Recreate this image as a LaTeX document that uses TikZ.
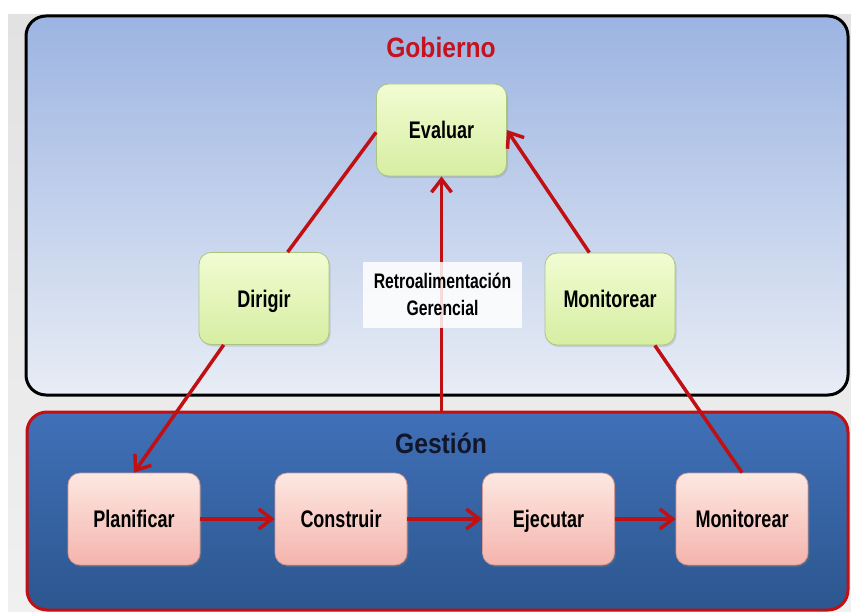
\documentclass[tikz,border=0pt]{standalone}
\usepackage{fontspec}
\setmainfont{Liberation Sans}
\newfontfamily\narrowfont{Liberation Sans}[FakeStretch=0.75]
\newfontfamily\titlefont{Liberation Sans}[FakeStretch=0.88]
\usetikzlibrary{arrows.meta,shadows}

\definecolor{arrred}{RGB}{192,16,20}
\definecolor{gobred}{RGB}{196,18,30}
\definecolor{gestink}{RGB}{18,22,42}
\definecolor{gobtop}{RGB}{156,180,226}
\definecolor{gobbot}{RGB}{232,237,245}
\definecolor{gestop}{RGB}{64,112,184}
\definecolor{gesbot}{RGB}{44,86,142}
\definecolor{greentop}{RGB}{242,252,210}
\definecolor{greenbot}{RGB}{214,238,162}
\definecolor{greenedge}{RGB}{170,196,130}
\definecolor{pinktop}{RGB}{253,232,226}
\definecolor{pinkbot}{RGB}{244,180,172}
\definecolor{pinkedge}{RGB}{214,150,145}
\definecolor{bgtop}{RGB}{226,226,226}
\definecolor{bgbot}{RGB}{240,240,240}

\tikzset{
  panelgob/.style={rectangle, rounded corners=20pt, draw=black, line width=3pt,
    top color=gobtop, bottom color=gobbot, inner sep=0pt},
  panelges/.style={rectangle, rounded corners=20pt, draw=arrred, line width=3pt,
    top color=gestop, bottom color=gesbot, inner sep=0pt},
  titletext/.style={font=\titlefont\bfseries\fontsize{28}{32}\selectfont, anchor=base},
  greenbox/.style={rectangle, rounded corners=12pt, draw=greenedge, line width=0.8pt,
    top color=greentop, bottom color=greenbot,
    minimum width=130pt, minimum height=92pt,
    font=\narrowfont\bfseries\fontsize{24}{28}\selectfont, text=black,
    text height=17pt, text depth=0pt,
    drop shadow={shadow xshift=1.5pt, shadow yshift=-2pt, opacity=0.25}},
  pinkbox/.style={rectangle, rounded corners=12pt, draw=pinkedge, line width=0.8pt,
    top color=pinktop, bottom color=pinkbot,
    minimum width=132pt, minimum height=92pt,
    font=\narrowfont\bfseries\fontsize{24}{28}\selectfont, text=black,
    text height=17pt, text depth=0pt,
    drop shadow={shadow xshift=1.5pt, shadow yshift=-2pt, opacity=0.3}},
  notebox/.style={rectangle, fill=white, fill opacity=0.85, draw=none,
    minimum width=159pt, minimum height=66pt},
  notetext/.style={font=\narrowfont\bfseries\fontsize{21}{27}\selectfont,
    align=center, text=black, inner sep=0pt},
  redarrow/.style={draw=arrred, line width=3.5pt,
    -{Straight Barb[length=13pt,width=20pt]}},
  redline/.style={draw=arrred, line width=3.5pt}
}

\begin{document}
\begin{tikzpicture}[x=1pt,y=-1pt]
\useasboundingbox (0,0) rectangle (851,612);
\fill[white] (0,0) rectangle (851,612);
\shade[top color=bgtop, bottom color=bgbot] (8,15) rectangle (851,612);

% the two layers
\node[panelgob, minimum width=822pt, minimum height=379pt] (gobierno) at (437,205.5) {};
\node[panelges, minimum width=821pt, minimum height=198pt] (gestion) at (437.5,511) {};

\node[titletext, text=gobred] (tgob) at (441,58) {Gobierno};
\node[titletext, text=gestink] (tges) at (441,453) {Gestión};

% governance activities
\node[greenbox] (evaluar) at (441.5,130) {Evaluar};
\node[greenbox] (dirigir) at (264,298.5) {Dirigir};
\node[greenbox] (monsup) at (610,299) {Monitorear};

% management activities
\node[pinkbox] (planificar) at (134,519) {Planificar};
\node[pinkbox] (construir) at (341,519) {Construir};
\node[pinkbox] (ejecutar) at (548.5,519) {Ejecutar};
\node[pinkbox] (moninf) at (742,519) {Monitorear};

% feedback channel from management up to evaluation
\draw[redarrow] (evaluar.south |- gestion.north) -- (evaluar.south);
\node[notebox] (retro) at (442.5,295) {};
\node[notetext] (retrotxt) at (442.5,294) {Retroalimentación\\Gerencial};

% governance cycle
\draw[redline] (dirigir.63) -- (evaluar.182);
\draw[redarrow] (monsup.114) -- (evaluar.east);
\draw[redarrow] (dirigir.229) -- (planificar.north);
\draw[redline] (monsup.314) -- (moninf.north);

% management flow
\draw[redarrow] (planificar.east) -- (construir.west);
\draw[redarrow] (construir.east) -- (ejecutar.west);
\draw[redarrow] (ejecutar.east) -- (moninf.west);
\end{tikzpicture}
\end{document}
